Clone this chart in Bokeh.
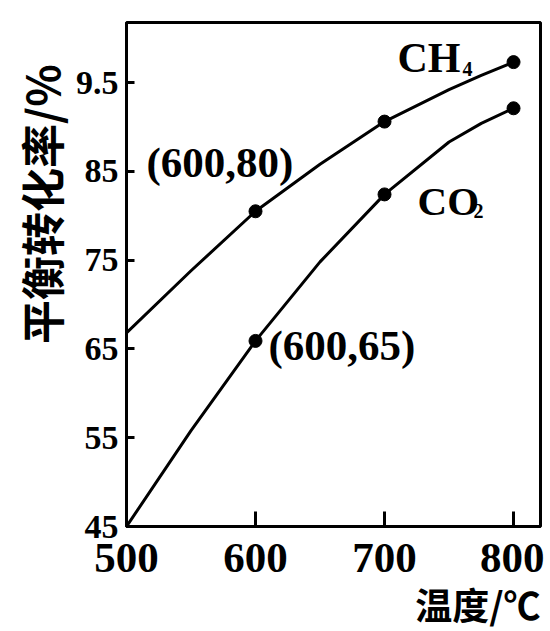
from bokeh.plotting import figure
from bokeh.models import Range1d, FixedTicker, Label, ColumnDataSource, Title
from bokeh.embed import file_html
from bokeh.resources import INLINE

# ---- data ----
temps = [500, 550, 600, 650, 700, 750, 775, 800]
ch4_conv = [66.8, 73.8, 80.5, 85.8, 90.6, 94.2, 95.8, 97.3]
co2_conv = [45.0, 55.8, 65.9, 74.8, 82.4, 88.3, 90.4, 92.1]
marker_temps = [600, 700, 800]
ch4_marker = [80.5, 90.6, 97.3]
co2_marker = [65.9, 82.4, 92.1]
x_ticks = [500, 600, 700, 800]
y_ticks = [45, 55, 65, 75, 85, 95]
y_tick_labels = {45: "45", 55: "55", 65: "65", 75: "75", 85: "85", 95: "9.5"}
point_labels = [("600", "80"), ("600", "65")]
y_title = "平衡转化率/%"
x_title = "温度/℃"

SERIF = "Liberation Serif"
CJK = "Noto Sans CJK SC"

p = figure(width=544, height=631, output_backend="svg", toolbar_location=None,
           x_range=Range1d(500, 820.9), y_range=Range1d(45, 101.76),
           min_border_left=126, min_border_right=4, min_border_top=22,
           min_border_bottom=105)
p.background_fill_color = "white"
p.border_fill_color = "white"
p.xgrid.visible = False
p.ygrid.visible = False
p.outline_line_color = "black"
p.outline_line_width = 3
p.outline_line_alpha = 1.0

xa = p.xaxis[0]
xa.ticker = FixedTicker(ticks=x_ticks)
xa.major_tick_in = 15
xa.major_tick_out = 0
xa.minor_tick_in = 0
xa.minor_tick_out = 0
xa.major_tick_line_width = 3
xa.major_tick_line_color = "black"
xa.axis_line_width = 3
xa.axis_line_color = "black"
xa.major_label_text_font = SERIF
xa.major_label_text_font_style = "bold"
xa.major_label_text_font_size = "43px"
xa.major_label_text_color = "black"
xa.major_label_standoff = 17

ya = p.yaxis[0]
ya.ticker = FixedTicker(ticks=y_ticks)
ya.major_label_overrides = y_tick_labels
ya.major_tick_in = 8
ya.major_tick_out = 0
ya.minor_tick_in = 0
ya.minor_tick_out = 0
ya.major_tick_line_width = 3
ya.major_tick_line_color = "black"
ya.axis_line_width = 3
ya.axis_line_color = "black"
ya.major_label_text_font = SERIF
ya.major_label_text_font_style = "bold"
ya.major_label_text_font_size = "34px"
ya.major_label_text_color = "black"
ya.major_label_standoff = 8

src = ColumnDataSource(dict(t=temps, ch4=ch4_conv, co2=co2_conv))
p.line("t", "ch4", source=src, line_color="black", line_width=3, line_join="round")
p.line("t", "co2", source=src, line_color="black", line_width=3, line_join="round")
msrc = ColumnDataSource(dict(t=marker_temps, ch4=ch4_marker, co2=co2_marker))
p.scatter("t", "ch4", source=msrc, size=13, color="black")
p.scatter("t", "co2", source=msrc, size=13, color="black")

# axis titles as Titles so that they sit outside the frame
p.add_layout(Title(text=y_title, align="right", offset=42, text_font=CJK,
                   text_font_style="bold", text_font_size="44px",
                   text_color="black", standoff=0), "left")
p.add_layout(Title(text=x_title, align="right", offset=0, text_font=CJK,
                   text_font_style="bold", text_font_size="37px",
                   text_color="black", standoff=0), "below")

# screen-to-data helpers for label placement (frame: x 126..540, y 22..526)
def dx(sx):
    return 500 + (sx - 126) / 1.29

def dy(sy):
    return 45 + (526 - sy) / 8.88

def add(text, sx, sy, size, align="left"):
    p.add_layout(Label(x=dx(sx), y=dy(sy), text=text, text_font=SERIF,
                       text_font_style="bold", text_font_size=size,
                       text_color="black", text_align=align,
                       text_baseline="middle"))

add("(%s,%s)" % point_labels[0], 146, 162, "43px")
add("(%s,%s)" % point_labels[1], 268, 345, "43px")
add("CH", 397, 57, "42px")
add("4", 462, 68, "20px")
add("CO", 417, 200, "41px")
add("2", 473, 210, "20px")

open("out.html", "w").write(file_html(p, INLINE))
